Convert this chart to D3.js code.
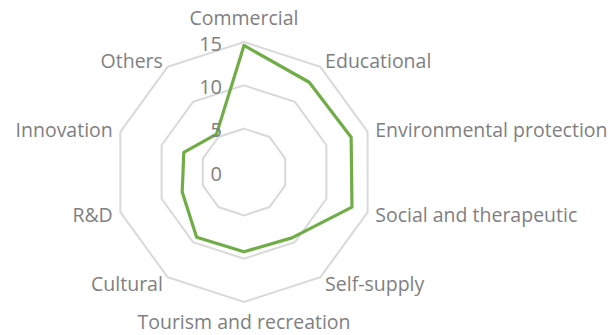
<!DOCTYPE html>
<html>
<head>
<meta charset="utf-8">
<script src="https://cdn.jsdelivr.net/npm/d3@7/dist/d3.min.js"></script>
<style>
  body { margin: 0; background: #fff; }
  text { font-family: "Open Sans", sans-serif; fill: #7f7f7f; }
</style>
</head>
<body>
<div id="chart"></div>
<script>
// values
var categories = ['Commercial','Educational','Environmental protection','Social and therapeutic',
    'Self-supply','Tourism and recreation','Cultural','R&D','Innovation','Others'];
var values = [14.6, 12.8, 13.0, 13.1, 9.4, 9.2, 9.3, 7.5, 7.3, 5.4];
var ticks = [0, 5, 10, 15];

function radarChart(id, w, h){
    let cx = 244, cy = 172;
    let radius = 130;

    var svg = d3.select(id)
        .append("svg")
        .attr("width", w)
        .attr("height", h);

    var rScale = d3.scaleLinear()
        .domain([0, 15])
        .range([0, radius]);

    var angle = d3.scaleLinear()
        .domain([0, categories.length])
        .range([0, 2 * Math.PI]);

    var g = svg.append("g")
        .attr("transform", "translate(" + cx + "," + cy + ")");

    var ring = d3.lineRadial()
        .angle(function(d, i){ return angle(i); })
        .radius(function(d){ return rScale(d); })
        .curve(d3.curveLinearClosed);

    // grid rings
    g.selectAll("rings")
        .data(ticks.slice(1))
        .enter()
        .append("path")
        .attr("d", function(t){
            return ring(categories.map(function(){ return t; }));
        })
        .attr("fill", "none")
        .attr("stroke", "#d9d9d9")
        .attr("stroke-width", 2);

    // series
    g.append("path")
        .attr("d", ring(values))
        .attr("fill", "none")
        .attr("stroke", "#70ad47")
        .attr("stroke-width", 3.2)
        .attr("stroke-linejoin", "round");

    // tick labels
    g.selectAll("ticklabel")
        .data(ticks)
        .enter()
        .append("text")
        .attr("x", -22)
        .attr("y", function(d){ return -rScale(d) + 8.5; })
        .style("text-anchor", "end")
        .style("font-size", "20px")
        .text(function(d){ return d; });

    // category labels
    g.selectAll("catlabel")
        .data(categories)
        .enter()
        .append("text")
        .style("font-size", "19.5px")
        .attr("x", function(d, i){
            let a = angle(i);
            return Math.sin(a) * (radius + 8);
        })
        .attr("y", function(d, i){
            let a = angle(i);
            return -Math.cos(a) * (radius + 8);
        })
        .attr("dy", function(d, i){
            let c = Math.cos(angle(i));
            if (c > 0.99) return "-0.45em";
            if (c < -0.99) return "0.97em";
            return "0.38em";
        })
        .style("text-anchor", function(d, i){
            let s = Math.sin(angle(i));
            if (Math.abs(s) < 0.01) return "middle";
            return s > 0 ? "start" : "end";
        })
        .text(function(d){ return d; });

    return svg;
}

radarChart("#chart", 616, 335);
</script>
</body>
</html>
